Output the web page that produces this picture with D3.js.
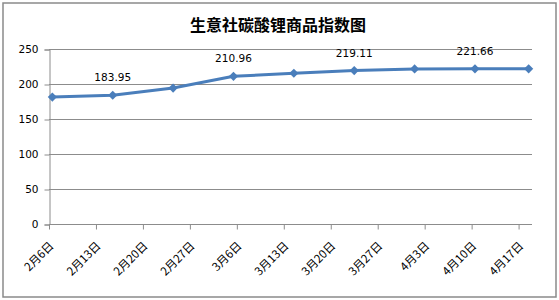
<!DOCTYPE html>
<html>
<head>
<meta charset="utf-8">
<script src="https://cdn.jsdelivr.net/npm/d3@7"></script>
<style>
  body { margin: 0; background: #fff; }
  text { font-family: "DejaVu Sans", "Noto Sans CJK SC", sans-serif; }
</style>
</head>
<body>
<div id="chart"></div>
<script>
// price index, one point every 9 days or so
var dates = ["2017-02-06", "2017-02-15", "2017-02-24", "2017-03-05", "2017-03-14",
             "2017-03-23", "2017-04-01", "2017-04-10", "2017-04-18"];
var values = [181.3, 183.95, 194.2, 210.96, 215.3, 219.11, 221.5, 221.66, 221.7];
var labeled = [1, 3, 5, 7];

var tickDates = ["2017-02-06", "2017-02-13", "2017-02-20", "2017-02-27", "2017-03-06",
                 "2017-03-13", "2017-03-20", "2017-03-27", "2017-04-03", "2017-04-10", "2017-04-17"];
var yTicks = [0, 50, 100, 150, 200, 250];

var title = "生意社碳酸锂商品指数图";

var width = 559, height = 300;
var plot = { left: 49, right: 532, top: 49, bottom: 224 };
var lineColor = "#4a7ebb";
var gridColor = "#8c8c8c";

var parse = d3.utcParse("%Y-%m-%d");
var halfDay = 12 * 3600 * 1000;

var svg = d3.select("#chart").append("svg")
    .attr("width", width)
    .attr("height", height);

// outer frame
svg.append("rect")
    .attr("x", 3).attr("y", 3)
    .attr("width", 553).attr("height", 294)
    .attr("fill", "#fff")
    .attr("stroke", "#8a8a8a")
    .attr("stroke-width", 1.5);

svg.append("text")
    .attr("x", 278)
    .attr("y", 31)
    .attr("text-anchor", "middle")
    .style("font-family", "'Noto Sans CJK SC', sans-serif")
    .style("font-weight", "bold")
    .style("font-size", "16px")
    .text(title);

var x = d3.scaleUtc()
    .domain([parse("2017-02-06"), parse("2017-04-19")])
    .range([plot.left, plot.right]);

var y = d3.scaleLinear()
    .domain([0, 250])
    .range([plot.bottom, plot.top]);

// grid
svg.append("g")
    .selectAll("line")
    .data(yTicks.filter(d => d > 0))
    .enter()
    .append("line")
    .attr("x1", plot.left)
    .attr("x2", plot.right)
    .attr("y1", d => Math.round(y(d)) + 0.5)
    .attr("y2", d => Math.round(y(d)) + 0.5)
    .attr("stroke", gridColor)
    .attr("stroke-width", 1);

// y axis
var yAxis = svg.append("g")
    .attr("transform", "translate(" + (plot.left + 0.5) + ",0.5)")
    .call(d3.axisLeft(y).tickValues(yTicks).tickSize(5).tickPadding(6));

// x axis
var xAxis = svg.append("g")
    .attr("transform", "translate(0," + (plot.bottom + 0.5) + ")")
    .call(d3.axisBottom(x)
        .tickValues(tickDates.map(parse))
        .tickSize(5)
        .tickFormat(d => (d.getUTCMonth() + 1) + "月" + d.getUTCDate() + "日"));

[yAxis, xAxis].forEach(function (ax) {
    ax.select(".domain").attr("stroke", gridColor);
    ax.selectAll(".tick line").attr("stroke", gridColor);
    ax.selectAll("text")
        .attr("fill", "#000")
        .style("font-size", "10.5px");
});

xAxis.select(".domain").attr("d", "M" + plot.left + ",0H" + plot.right);

xAxis.selectAll(".tick text")
    .attr("text-anchor", "end")
    .attr("x", 0)
    .attr("y", 0)
    .attr("dy", 0)
    .style("font-family", "'Noto Sans CJK SC', sans-serif")
    .style("font-size", "11.5px")
    .attr("transform", "translate(5,22) rotate(-45)");

// series
var points = dates.map((d, i) => ({ date: parse(d), value: values[i], i: i }));

var line = d3.line()
    .x(d => x(+d.date + halfDay))
    .y(d => y(d.value));

svg.append("path")
    .datum(points)
    .attr("d", line)
    .attr("fill", "none")
    .attr("stroke", lineColor)
    .attr("stroke-width", 3)
    .attr("stroke-linejoin", "round");

svg.append("g")
    .selectAll("path")
    .data(points)
    .enter()
    .append("path")
    .attr("d", d3.symbol(d3.symbolSquare, 42))
    .attr("transform", d => "translate(" + x(+d.date + halfDay) + "," + y(d.value) + ") rotate(45)")
    .attr("fill", lineColor);

svg.append("g")
    .selectAll("text")
    .data(points.filter(d => labeled.indexOf(d.i) >= 0))
    .enter()
    .append("text")
    .attr("x", d => x(+d.date + halfDay))
    .attr("y", d => y(d.value) - 14)
    .attr("text-anchor", "middle")
    .style("font-size", "10.5px")
    .text(d => d.value.toFixed(2));
</script>
</body>
</html>
